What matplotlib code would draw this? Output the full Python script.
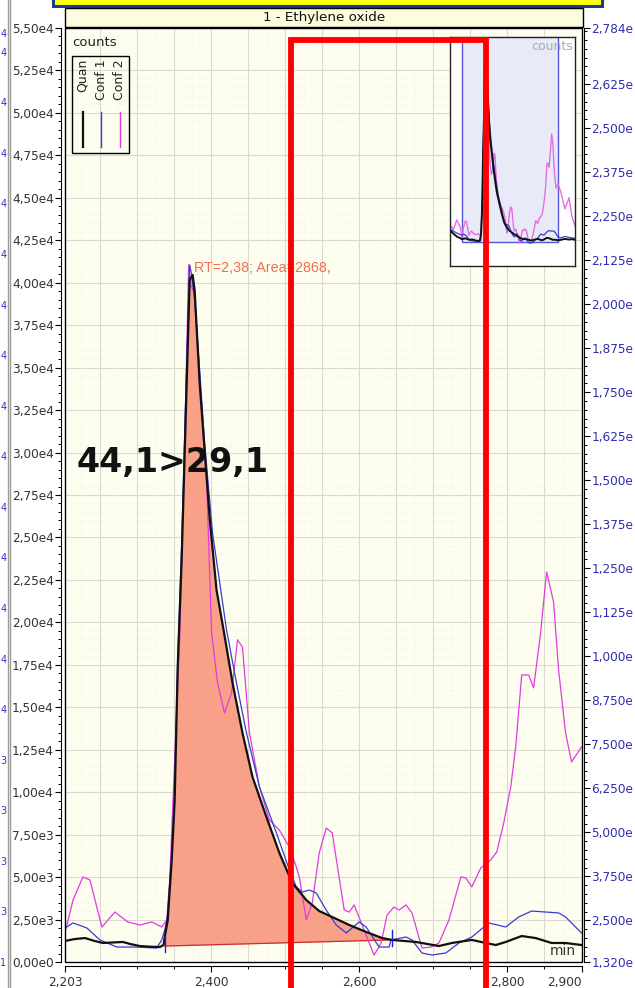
import numpy as np
import matplotlib
matplotlib.use("Agg")
import matplotlib.pyplot as plt
from matplotlib.patches import Rectangle
from matplotlib.lines import Line2D
from matplotlib.ticker import MultipleLocator, FixedLocator

# ---------------- data ----------------
title = "1 - Ethylene oxide"
transition = "44,1>29,1"
peak_label = "RT=2,38; Area=2868,"
series_names = ["Quan", "Conf 1", "Conf 2"]

quan_t = [2.203, 2.216, 2.230, 2.242, 2.254, 2.268, 2.281, 2.292, 2.304, 2.318, 2.331, 2.336,
          2.3376, 2.3416, 2.3470, 2.3510, 2.3551, 2.3604, 2.3658, 2.3712, 2.3752, 2.3779,
          2.3847, 2.3914, 2.3981, 2.4075, 2.4170, 2.4291, 2.4425, 2.4560, 2.4748, 2.4923,
          2.5098, 2.5286, 2.5461, 2.5636, 2.5865, 2.6094, 2.6309, 2.6444, 2.6766, 2.7076,
          2.7251, 2.7520, 2.7708, 2.7843, 2.7978, 2.8193, 2.8381, 2.8597, 2.8785, 2.900]
quan_v = [1240, 1350, 1410, 1250, 1120, 1150, 1180, 1050, 940, 900, 880, 1000,
          1470, 2450, 5990, 9540, 17370, 23670, 31900, 40160, 40460, 39570,
          34100, 30150, 26200, 21900, 19550, 16430, 13490, 10900, 8540, 6420,
          4650, 3650, 3000, 2650, 2180, 1770, 1410, 1300, 1180, 940,
          1120, 1300, 1120, 1000, 1180, 1530, 1410, 1120, 1120, 1000]

conf1_t = [2.203, 2.2138, 2.2326, 2.2501, 2.2730, 2.2999, 2.3268, 2.3335, 2.3376, 2.3416,
           2.3470, 2.3510, 2.3551, 2.3604, 2.3658, 2.3712, 2.3739, 2.3779, 2.3847, 2.3914,
           2.4021, 2.4210, 2.4344, 2.4479, 2.4654, 2.4883, 2.5058, 2.5152, 2.5233, 2.5327,
           2.5421, 2.5555, 2.5690, 2.5825, 2.6000, 2.6094, 2.6269, 2.6403, 2.6430, 2.6632,
           2.6713, 2.6847, 2.6982, 2.7170, 2.7345, 2.7520, 2.7749, 2.7978, 2.8152, 2.8327,
           2.8691, 2.8785, 2.900]
conf1_v = [2000, 2300, 2000, 1300, 880, 880, 820, 1300, 1880, 2770,
           6300, 10130, 17780, 24560, 33100, 41050, 40460, 38990, 34860, 30560,
           25260, 19550, 16430, 13490, 10310, 7600, 5420, 4420, 4120, 4240,
           4060, 3060, 2180, 1710, 2360, 2060, 880, 880, 1300, 1470,
           1300, 530, 410, 530, 1120, 1470, 2300, 2060, 2650, 3000,
           2890, 2650, 1710]

conf2_t = [2.203, 2.2138, 2.2272, 2.2366, 2.2528, 2.2703, 2.2878, 2.3039, 2.3201, 2.3335,
           2.3403, 2.3443, 2.3510, 2.3577, 2.3645, 2.3699, 2.3725, 2.3779, 2.3847, 2.3941,
           2.4008, 2.4089, 2.4183, 2.4277, 2.4358, 2.4425, 2.4519, 2.4654, 2.4788, 2.4923,
           2.5058, 2.5152, 2.5192, 2.5286, 2.5367, 2.5461, 2.5555, 2.5636, 2.5798, 2.5865,
           2.5932, 2.6067, 2.6201, 2.6296, 2.6376, 2.6470, 2.6538, 2.6632, 2.6713, 2.6847,
           2.6968, 2.7076, 2.7211, 2.7372, 2.7439, 2.7520, 2.7641, 2.7776, 2.7856, 2.7951,
           2.8045, 2.8112, 2.8193, 2.8287, 2.8354, 2.8448, 2.8529, 2.8623, 2.8691, 2.8785,
           2.8866, 2.900]
conf2_v = [1710, 3650, 5010, 4830, 2060, 2940, 2360, 2180, 2360, 2060,
           2470, 4830, 11900, 18970, 30740, 41050, 39870, 39400, 34270, 28380,
           19375, 16430, 14660, 15840, 18970, 18550, 13490, 10310, 8360, 7770,
           6770, 5590, 5010, 2470, 3470, 6420, 7890, 7600, 3060, 2940,
           3360, 1880, 410, 1120, 2770, 3240, 3060, 3360, 2890, 820,
           880, 1120, 2470, 5010, 4950, 4420, 5540, 6010, 6480, 8190,
           10310, 12660, 16900, 16900, 16140, 19380, 22970, 21200, 17200, 13490,
           11780, 12660]

# integration window and baseline
integ_t = [2.3376, 2.6444]
integ_base = [940, 1300]

# extra context shown only in the overview inset
pre_t = [2.116, 2.140, 2.165, 2.190]
pre_quan = [3100, 2400, 1800, 1450]
pre_conf1 = [3300, 2900, 2500, 2200]
pre_conf2 = [4300, 3200, 5200, 3800]
post_t = [2.920, 2.950, 2.980, 3.000, 3.023]
post_quan = [1100, 1300, 1150, 1250, 1100]
post_conf1 = [1500, 1800, 1600, 1500, 1400]
post_conf2 = [11000, 7500, 9800, 6000, 4000]

# highlighted window (red box)
box_t = [2.5085, 2.7708]
box_counts = [-1650, 54300]

# axes ticks
x_ticks = [2.203, 2.400, 2.600, 2.800, 2.900]
left_ticks = list(np.arange(0, 55001, 2500))
right_ticks = [1320] + list(np.arange(2500, 26251, 1250)) + [27840]
ghost_ticks = [14.3] + list(np.arange(2000, 36001, 2000)) + [36750]

# ---------------- helpers ----------------
W, H = 635, 988
def fx(px):
    return px / W
def fy(py):
    return 1 - py / H

def sci(v, nd):
    if v == 0:
        return ("{:.%df}e0" % nd).format(0).replace('.', ',')
    e = int(np.floor(np.log10(abs(v))))
    m = v / 10 ** e
    return ("{:.%df}e{}" % nd).format(m, e).replace('.', ',')

plt.rcParams['font.family'] = ['DejaVu Sans']
BLACK = '#111111'
BLUE = '#3c3cd0'
MAG = '#e03ce0'
LBL = '#333333'
RBLUE = '#2f2fb0'

fig = plt.figure(figsize=(W / 100, H / 100), dpi=100)
fig.patch.set_facecolor('white')

L, R, T, B = 65, 581.5, 28, 962
ax = fig.add_axes([fx(L), fy(B), fx(R) - fx(L), fy(T) - fy(B)])
ax.set_facecolor('#fdfdf0')
ax.set_xlim(2.203, 2.900)
ax.set_ylim(0, 55000)

# grid
for v in np.arange(500, 55000, 500):
    if v % 2500 == 0:
        ax.axhline(v, color='#dadace', lw=0.8, zorder=0)
    else:
        ax.axhline(v, color='#e9e9dc', lw=0.5, ls=(0, (1, 2)), zorder=0)
for v in np.arange(2.25, 2.9, 0.05):
    ax.axvline(v, color='#dadace', lw=0.8, zorder=0)
for v in np.arange(2.225, 2.9, 0.025):
    if abs((v / 0.05) - round(v / 0.05)) > 1e-6:
        ax.axvline(v, color='#ececdf', lw=0.5, ls=(0, (1, 2)), zorder=0)

# peak fill
qt = np.array(quan_t); qv = np.array(quan_v)
sel = (qt >= integ_t[0] - 1e-9) & (qt <= integ_t[1] + 1e-9)
base_sel = np.interp(qt[sel], integ_t, integ_base)
ax.fill_between(qt[sel], base_sel, qv[sel], color='#f8a088', lw=0, zorder=1)
ax.plot(integ_t, integ_base, color='#c83030', lw=0.9, zorder=2)
for t, b in zip(integ_t, integ_base):
    ax.plot([t, t], [b - 350, b + 600], color='#2020d0', lw=1.0, zorder=5)

ax.plot(conf2_t, conf2_v, color=MAG, lw=0.9, zorder=3)
ax.plot(conf1_t, conf1_v, color=BLUE, lw=0.9, zorder=4)
ax.plot(quan_t, quan_v, color=BLACK, lw=1.6, zorder=4)

# spines / ticks
ax.spines['top'].set_visible(False)
ax.spines['left'].set_position(('outward', 3))
ax.spines['bottom'].set_position(('outward', 3))
ax.spines['right'].set_visible(False)
ax.add_patch(Rectangle((0, 0), 1, 1, transform=ax.transAxes, fill=False,
                       ec='black', lw=1.0, zorder=6, clip_on=False))
ax.xaxis.set_major_locator(FixedLocator(x_ticks))
ax.set_xticklabels([("%.3f" % v).replace('.', ',') for v in x_ticks])
ax.xaxis.set_minor_locator(MultipleLocator(0.05))
ax.yaxis.set_major_locator(FixedLocator(left_ticks))
ax.set_yticklabels([sci(v, 2) for v in left_ticks])
ax.yaxis.set_minor_locator(MultipleLocator(500))
ax.tick_params(axis='both', which='major', direction='out', length=4, width=0.8,
               labelsize=8.7, labelcolor=LBL, pad=1)
ax.tick_params(axis='x', which='major', pad=3)
ax.tick_params(axis='both', which='minor', direction='out', length=2.2, width=0.7)
xl = ax.get_xticklabels()
xl[-1].set_horizontalalignment('right')
xl[-1].set_x(2.900)

ax2 = ax.twinx()
ax2.set_ylim(1320, 27840)
ax2.spines['right'].set_position(('outward', 2))
for s in ['top', 'left', 'bottom']:
    ax2.spines[s].set_visible(False)
ax2.yaxis.set_major_locator(FixedLocator(right_ticks))
# the labels are cut at the window edge in the original screenshot
ax2.set_yticklabels([sci(v, 3)[:-1] for v in right_ticks])
ax2.yaxis.set_minor_locator(MultipleLocator(250))
ax2.tick_params(axis='y', which='major', direction='out', length=4, width=0.8,
                labelsize=8.7, labelcolor=RBLUE, pad=1)
ax2.tick_params(axis='y', which='minor', direction='out', length=2.2, width=0.7)

# ghost axis of neighbouring panel (only last characters visible)
axg = fig.add_axes([fx(0), fy(B), 0.0001, fy(T) - fy(B)])
axg.set_ylim(0, 36940)
axg.set_xticks([])
for s in axg.spines.values():
    s.set_visible(False)
axg.patch.set_visible(False)
axg.yaxis.tick_right()
axg.yaxis.set_major_locator(FixedLocator(ghost_ticks))
axg.set_yticklabels([sci(v, 3)[-1] for v in ghost_ticks])
axg.tick_params(axis='y', length=0, pad=0, labelsize=7, labelcolor='#3333cc')
for xx in (7.5, 10.3):
    fig.add_artist(Line2D([fx(xx), fx(xx)], [0, 1], color='#9a9a9a', lw=1.0))

# title bars
fig.add_artist(Rectangle((fx(53), fy(6)), fx(602) - fx(53), fy(-10) - fy(6),
                         fc='#ffff10', ec='#1c3c8c', lw=2.2, transform=fig.transFigure))
fig.add_artist(Rectangle((fx(L), fy(27.5)), fx(583) - fx(L), fy(8) - fy(27.5),
                         fc='#fdfcdc', ec='black', lw=1.0, transform=fig.transFigure))
fig.text(fx(324), fy(18), title, ha='center', va='center', fontsize=9.7, color='#111111')

# texts
fig.text(fx(72), fy(36), "counts", ha='left', va='top', fontsize=9.5, color='#222222')
fig.text(fx(576), fy(955), "min", ha='right', va='baseline', fontsize=10, color='#333333')
fig.text(fx(77), fy(472), transition, ha='left', va='baseline', fontsize=24,
         fontweight='bold', color='#111111')
ax.annotate(peak_label, xy=(2.3752, 40460), xytext=(1, 0), textcoords='offset points',
            ha='left', va='bottom', fontsize=10.3, family=['Liberation Sans'],
            color='#ee6e54', zorder=7)

# legend
fig.add_artist(Rectangle((fx(72), fy(153)), fx(129) - fx(72), fy(56) - fy(153),
                         fill=False, ec='black', lw=1.0, transform=fig.transFigure))
for name, xx, col, lw in zip(series_names, (82.5, 101, 119.5), (BLACK, BLUE, MAG), (1.6, 1.0, 1.0)):
    fig.text(fx(xx), fy(59), name, rotation=90, ha='center', va='top', fontsize=9, color='#222222')
    fig.add_artist(Line2D([fx(xx), fx(xx)], [fy(112), fy(147)], color=col, lw=lw))

# overview inset
axi = fig.add_axes([fx(450), fy(266), fx(575) - fx(450), fy(37) - fy(266)])
axi.set_facecolor('white')
axi.set_xlim(2.116, 3.023)
axi.set_ylim(-4300, 43000)
axi.set_xticks([]); axi.set_yticks([])
for s in axi.spines.values():
    s.set_color('#222222'); s.set_linewidth(1.0)
axi.add_patch(Rectangle((2.203, 650), 0.697, 60000, fc='#e8eaf8', ec='#5555d5', lw=1.0, zorder=1))
axi.plot(pre_t + conf2_t + post_t, pre_conf2 + conf2_v + post_conf2, color='#e070e0', lw=1.0, zorder=2)
axi.plot(pre_t + conf1_t + post_t, pre_conf1 + conf1_v + post_conf1, color=BLUE, lw=0.9, zorder=3)
axi.plot(pre_t + quan_t + post_t, pre_quan + quan_v + post_quan, color=BLACK, lw=1.4, zorder=4)
axi.text(0.98, 0.985, "counts", transform=axi.transAxes, ha='right', va='top',
         fontsize=9, color='#a8a8b0')

# red highlight box (on top of everything)
fig.add_artist(Rectangle((box_t[0], box_counts[0]), box_t[1] - box_t[0], box_counts[1] - box_counts[0],
                         fill=False, ec='#ff0000', lw=4.2, transform=ax.transData, zorder=20))

fig.savefig("out.png", dpi=100)
